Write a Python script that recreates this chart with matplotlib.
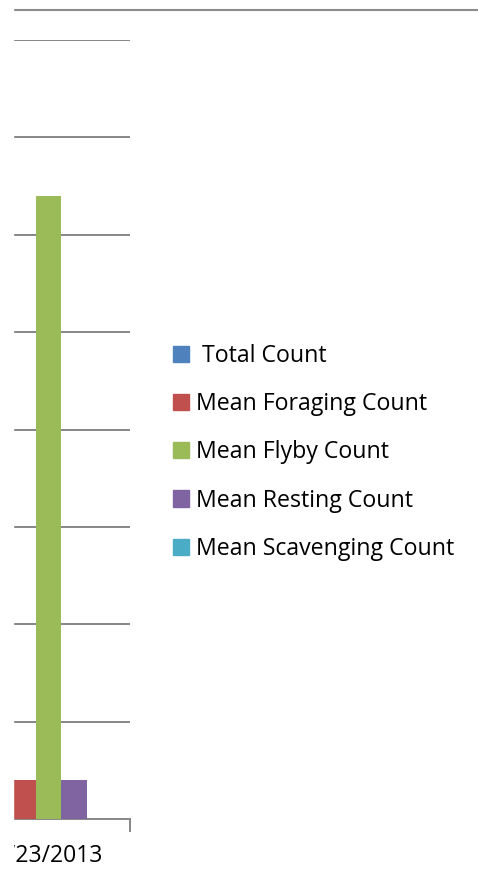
import numpy as np
import matplotlib.pyplot as plt
from matplotlib.patches import Rectangle
from matplotlib.lines import Line2D

# data
categories = ["7/23/2013"]
series = ["Total Count", "Mean Foraging Count", "Mean Flyby Count",
          "Mean Resting Count", "Mean Scavenging Count"]
legend_labels = [" Total Count", "Mean Foraging Count", "Mean Flyby Count",
                 "Mean Resting Count", "Mean Scavenging Count"]
values = [7.2, 0.4, 6.4, 0.4, 0.0]
colors = ["#4F81BD", "#C0504D", "#9BBB59", "#8064A2", "#4BACC6"]

plt.rcParams['font.family'] = ['Open Sans', 'DejaVu Sans']

W, H = 478, 884
fig = plt.figure(figsize=(W / 100, H / 100), dpi=100)

# plot area in pixels: x 13..130, y 40..819
ax = fig.add_axes([13 / W, (H - 819) / H, 117 / W, 779 / H])

bar_w = 0.156
x = np.arange(len(categories))
for i, (s, v, c) in enumerate(zip(series, values, colors)):
    ax.bar(x + (i - 2) * bar_w, [v], width=bar_w, color=c, label=s, zorder=3)

ax.set_xlim(-0.218, 0.5)
ax.set_ylim(0, 8)
ax.set_yticks(np.arange(1, 9))
ax.yaxis.grid(True, color="#868686", linewidth=1.4, zorder=0)
ax.tick_params(axis="y", left=False, labelleft=False)

ax.set_xticks(x)
ax.set_xticklabels(categories, fontsize=16.5)
ax.set_xticks([0.5], minor=True)
ax.tick_params(axis="x", which="major", length=0, pad=18)
ax.tick_params(axis="x", which="minor", length=9, width=1.4, color="#868686")

for side in ["top", "right", "left"]:
    ax.spines[side].set_visible(False)
ax.spines["bottom"].set_color("#868686")
ax.spines["bottom"].set_linewidth(1.4)

# line across the top
fig.add_artist(Line2D([13 / W, 1], [1 - 10 / H, 1 - 10 / H], transform=fig.transFigure,
                      color="#8c8c8c", linewidth=1.5))

# legend
handles = [Rectangle((0, 0), 1, 1, color=c) for c in colors]
fig.legend(handles, legend_labels, loc="upper left",
           bbox_to_anchor=(173 / W, 1 - 344 / H), frameon=False, fontsize=16.7,
           handlelength=0.7, handleheight=0.7, handletextpad=0.3,
           labelspacing=1.045, borderpad=0, borderaxespad=0)

# left strip is cut off in the original
fig.add_artist(Rectangle((0, 0), 13 / W, 1, transform=fig.transFigure,
                         color="white", zorder=10))

fig.savefig("out.png", dpi=100)
